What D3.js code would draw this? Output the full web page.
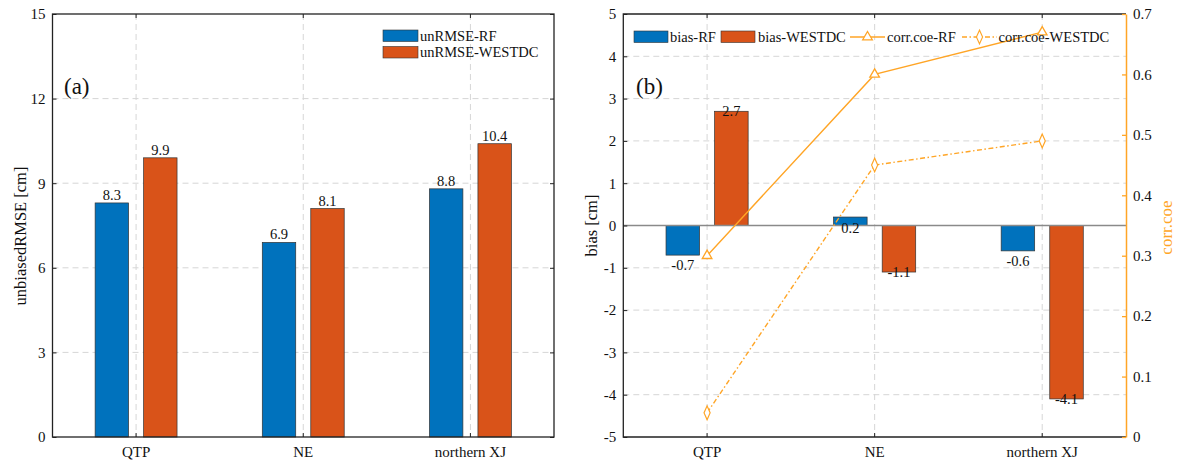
<!DOCTYPE html>
<html><head><meta charset="utf-8">
<script src="https://cdn.jsdelivr.net/npm/d3@7"></script>
<style>
body{margin:0;background:#fff}
svg{display:block}
text{font-family:"Liberation Serif","Times New Roman",serif;fill:#111}
</style>
</head><body>
<svg id="c" width="1178" height="462"></svg>
<script>
// ---------- data ----------
const categories = ["QTP", "NE", "northern XJ"];
const unrmseRF = [8.3, 6.9, 8.8];
const unrmseWESTDC = [9.9, 8.1, 10.4];
const biasRF = [-0.7, 0.2, -0.6];
const biasWESTDC = [2.7, -1.1, -4.1];
const corrRF = [0.30, 0.60, 0.67];
const corrWESTDC = [0.04, 0.45, 0.49];
const ticksA = [0, 3, 6, 9, 12, 15];
const ticksBias = [-5, -4, -3, -2, -1, 0, 1, 2, 3, 4, 5];
const ticksCorr = [0, 0.1, 0.2, 0.3, 0.4, 0.5, 0.6, 0.7];
const legendA = ["unRMSE-RF", "unRMSE-WESTDC"];
const legendB = ["bias-RF", "bias-WESTDC", "corr.coe-RF", "corr.coe-WESTDC"];

// ---------- style ----------
const BLUE = "#0072BD", RED = "#D95319", ORANGE = "#FFA526", GRID = "#d6d6d6";
const TOP = 14, BOT = 437;
const TICKFS = 15, LABFS = 14.5;
const svg = d3.select("#c");
const fmt = d => d3.format(".1f")(d).replace("\u2212", "-");
const fmtInt = d => String(d);

function gridLines(g, x, y, ticks, left, right) {
  g.append("g").selectAll("line").data(ticks.slice(1, -1)).join("line")
    .attr("x1", left).attr("x2", right)
    .attr("y1", d => y(d)).attr("y2", d => y(d))
    .attr("stroke", GRID).attr("stroke-width", 1).attr("stroke-dasharray", "6,4");
  g.append("g").selectAll("line").data(categories).join("line")
    .attr("x1", d => x(d) + x.bandwidth() / 2).attr("x2", d => x(d) + x.bandwidth() / 2)
    .attr("y1", TOP).attr("y2", BOT)
    .attr("stroke", GRID).attr("stroke-width", 1).attr("stroke-dasharray", "6,4");
}

function drawBars(g, x, y, vals, off, color) {
  const bw = x.bandwidth();
  g.append("g").selectAll("rect").data(vals).join("rect")
    .attr("x", (d, i) => x(categories[i]) + bw / 2 + off * bw - 0.1 * bw)
    .attr("width", 0.2 * bw)
    .attr("y", d => Math.min(y(d), y(0)))
    .attr("height", d => Math.abs(y(d) - y(0)))
    .attr("fill", color).attr("stroke", "#333").attr("stroke-width", 0.7);
}

function frameAxes(g, x, y, ticks, left, right, drawRight) {
  const axL = g.append("g").attr("transform", `translate(${left},0)`)
    .call(d3.axisLeft(y).tickValues(ticks).tickSize(-4).tickSizeOuter(0).tickPadding(7).tickFormat(fmtInt));
  axL.select(".domain").remove();
  axL.selectAll("line").attr("stroke", "#222");
  axL.selectAll("text").attr("font-size", TICKFS).attr("fill", "#111").style("font-family", "Liberation Serif");
  if (drawRight) {
    const axR = g.append("g").attr("transform", `translate(${right},0)`)
      .call(d3.axisRight(y).tickValues(ticks).tickSize(-4).tickSizeOuter(0).tickFormat(""));
    axR.select(".domain").remove();
    axR.selectAll("line").attr("stroke", "#222");
  }
  const axB = g.append("g").attr("transform", `translate(0,${BOT})`)
    .call(d3.axisBottom(x).tickSize(-4).tickSizeOuter(0).tickPadding(9));
  axB.select(".domain").remove();
  axB.selectAll("line").attr("stroke", "#222");
  axB.selectAll("text").attr("font-size", TICKFS).attr("fill", "#111").style("font-family", "Liberation Serif");
  const axT = g.append("g").attr("transform", `translate(0,${TOP})`)
    .call(d3.axisTop(x).tickSize(-4).tickSizeOuter(0).tickFormat(""));
  axT.select(".domain").remove();
  axT.selectAll("line").attr("stroke", "#222");
}

// ================= Panel (a) =================
{
  const L = 52.5, R = 554;
  const x = d3.scaleBand().domain(categories).range([L, R]).padding(0);
  const y = d3.scaleLinear().domain([0, 15]).range([BOT, TOP]);
  const g = svg.append("g");
  gridLines(g, x, y, ticksA, L, R);
  drawBars(g, x, y, unrmseRF, -0.145, BLUE);
  drawBars(g, x, y, unrmseWESTDC, 0.145, RED);
  const bw = x.bandwidth();
  [[unrmseRF, -0.145], [unrmseWESTDC, 0.145]].forEach(([vals, off]) => {
    g.append("g").selectAll("text").data(vals).join("text")
      .attr("x", (d, i) => x(categories[i]) + bw / 2 + off * bw)
      .attr("y", d => y(d) - 3)
      .attr("text-anchor", "middle").attr("font-size", LABFS).text(d => fmt(d));
  });
  frameAxes(g, x, y, ticksA, L, R, true);
  g.append("rect").attr("x", L).attr("y", TOP).attr("width", R - L).attr("height", BOT - TOP)
    .attr("fill", "none").attr("stroke", "#222").attr("stroke-width", 1.3);
  g.append("text").attr("transform", `translate(26,236) rotate(-90)`)
    .attr("text-anchor", "middle").attr("font-size", 16.5).text("unbiasedRMSE [cm]");
  g.append("text").attr("x", 64).attr("y", 94).attr("font-size", 23).text("(a)");
  // legend
  const lg = g.append("g");
  [BLUE, RED].forEach((c, i) => {
    lg.append("rect").attr("x", 383).attr("y", 30 + i * 16.5).attr("width", 35).attr("height", 11.5)
      .attr("fill", c).attr("stroke", "#333").attr("stroke-width", 0.6);
    lg.append("text").attr("x", 420).attr("y", 40.5 + i * 16.5).attr("font-size", LABFS).text(legendA[i]);
  });
}

// ================= Panel (b) =================
{
  const L = 623.3, R = 1126;
  const x = d3.scaleBand().domain(categories).range([L, R]).padding(0);
  const y = d3.scaleLinear().domain([-5, 5]).range([BOT, TOP]);
  const yc = d3.scaleLinear().domain([0, 0.7]).range([BOT, TOP]);
  const g = svg.append("g");
  gridLines(g, x, y, ticksBias, L, R);
  drawBars(g, x, y, biasRF, -0.145, BLUE);
  drawBars(g, x, y, biasWESTDC, 0.145, RED);
  g.append("line").attr("x1", L).attr("x2", R).attr("y1", y(0)).attr("y2", y(0))
    .attr("stroke", "#8a8a8a").attr("stroke-width", 1.4);
  const bw = x.bandwidth();
  // value labels: RF labels just beyond the bar end (downwards), WESTDC labels centred on bar end
  g.append("g").selectAll("text").data(biasRF).join("text")
    .attr("x", (d, i) => x(categories[i]) + bw / 2 - 0.145 * bw)
    .attr("y", d => Math.max(y(d), y(0) - 8) + 15)
    .attr("text-anchor", "middle").attr("font-size", LABFS).text(d => fmt(d));
  g.append("g").selectAll("text").data(biasWESTDC).join("text")
    .attr("x", (d, i) => x(categories[i]) + bw / 2 + 0.145 * bw)
    .attr("y", d => y(d) + 5)
    .attr("text-anchor", "middle").attr("font-size", LABFS).text(d => fmt(d));
  frameAxes(g, x, y, ticksBias, L, R, false);
  g.append("path").attr("d", `M${R},${TOP}H${L}V${BOT}H${R}`)
    .attr("fill", "none").attr("stroke", "#222").attr("stroke-width", 1.3);
  // right orange axis
  const axR = g.append("g").attr("transform", `translate(${R},0)`)
    .call(d3.axisRight(yc).tickValues(ticksCorr).tickSize(-4).tickSizeOuter(0).tickPadding(7)
      .tickFormat(d => d === 0 ? "0" : d3.format(".1f")(d)));
  axR.select(".domain").attr("stroke", ORANGE).attr("stroke-width", 1.5);
  axR.selectAll("line").attr("stroke", ORANGE).attr("stroke-width", 1.3);
  axR.selectAll("text").attr("font-size", TICKFS).attr("fill", ORANGE).style("font-family", "Liberation Serif");
  // lines
  const cx = i => x(categories[i]) + bw / 2;
  const line = d3.line().x((d, i) => cx(i)).y(d => yc(d));
  g.append("path").datum(corrRF).attr("d", line).attr("fill", "none")
    .attr("stroke", ORANGE).attr("stroke-width", 1.4);
  g.append("path").datum(corrWESTDC).attr("d", line).attr("fill", "none")
    .attr("stroke", ORANGE).attr("stroke-width", 1.4).attr("stroke-dasharray", "5,2.5,1.5,2.5");
  const tri = d3.symbol().type(d3.symbolTriangle).size(40);
  const dia = d3.symbol().type(d3.symbolDiamond).size(45);
  g.append("g").selectAll("path").data(corrRF).join("path")
    .attr("d", tri).attr("transform", (d, i) => `translate(${cx(i)},${yc(d)})`)
    .attr("fill", "white").attr("stroke", ORANGE).attr("stroke-width", 1.3);
  g.append("g").selectAll("path").data(corrWESTDC).join("path")
    .attr("d", dia).attr("transform", (d, i) => `translate(${cx(i)},${yc(d)}) scale(0.85,1.1)`)
    .attr("fill", "white").attr("stroke", ORANGE).attr("stroke-width", 1.3);
  // axis titles
  g.append("text").attr("transform", `translate(597,${(TOP + BOT) / 2}) rotate(-90)`)
    .attr("text-anchor", "middle").attr("font-size", 16.5).text("bias [cm]");
  g.append("text").attr("transform", `translate(1172,${(TOP + BOT) / 2 + 2}) rotate(-90)`)
    .attr("text-anchor", "middle").attr("font-size", 17).style("fill", ORANGE).text("corr.coe");
  g.append("text").attr("x", 636).attr("y", 94).attr("font-size", 23).text("(b)");
  // legend
  const lg = g.append("g");
  const ly = 37;
  lg.append("rect").attr("x", 634).attr("y", ly - 6).attr("width", 34).attr("height", 11.5)
    .attr("fill", BLUE).attr("stroke", "#333").attr("stroke-width", 0.6);
  lg.append("text").attr("x", 670).attr("y", ly + 5).attr("font-size", LABFS).text(legendB[0]);
  lg.append("rect").attr("x", 721).attr("y", ly - 6).attr("width", 34).attr("height", 11.5)
    .attr("fill", RED).attr("stroke", "#333").attr("stroke-width", 0.6);
  lg.append("text").attr("x", 758).attr("y", ly + 5).attr("font-size", LABFS).text(legendB[1]);
  lg.append("line").attr("x1", 850).attr("x2", 885).attr("y1", ly).attr("y2", ly)
    .attr("stroke", ORANGE).attr("stroke-width", 1.4);
  lg.append("path").attr("d", tri).attr("transform", `translate(867.5,${ly})`)
    .attr("fill", "white").attr("stroke", ORANGE).attr("stroke-width", 1.3);
  lg.append("text").attr("x", 887).attr("y", ly + 5).attr("font-size", LABFS).text(legendB[2]);
  lg.append("line").attr("x1", 962).attr("x2", 997).attr("y1", ly).attr("y2", ly)
    .attr("stroke", ORANGE).attr("stroke-width", 1.4).attr("stroke-dasharray", "5,2.5,1.5,2.5");
  lg.append("path").attr("d", dia).attr("transform", `translate(979.5,${ly}) scale(0.85,1.1)`)
    .attr("fill", "white").attr("stroke", ORANGE).attr("stroke-width", 1.3);
  lg.append("text").attr("x", 998.5).attr("y", ly + 5).attr("font-size", LABFS).text(legendB[3]);
}
</script>
</body></html>
